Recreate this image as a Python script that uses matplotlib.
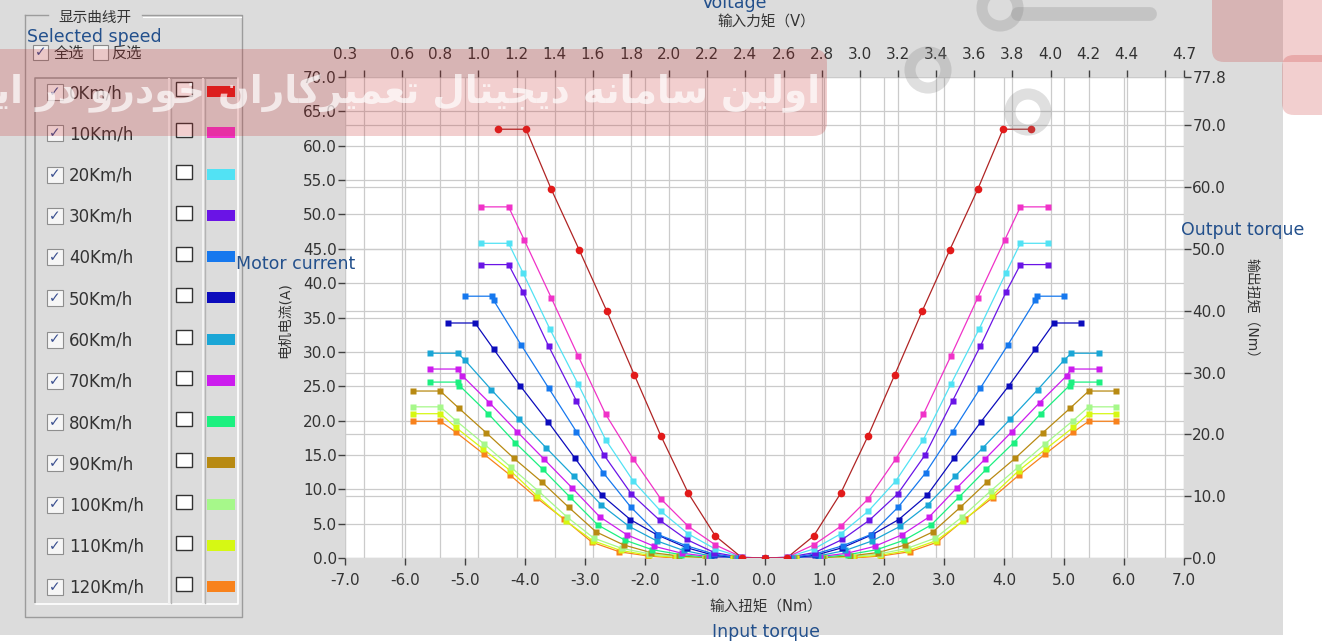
import numpy as np
import matplotlib.pyplot as plt
from matplotlib.patches import Rectangle, FancyBboxPatch, Circle

plt.rcParams['font.family'] = ['DejaVu Sans', 'Noto Sans CJK SC']

W, H = 1322, 643

speeds = ['0Km/h', '10Km/h', '20Km/h', '30Km/h', '40Km/h', '50Km/h', '60Km/h',
          '70Km/h', '80Km/h', '90Km/h', '100Km/h', '110Km/h', '120Km/h']
colors = ['#e21a1a', '#f032c8', '#52e2f4', '#6a14e6', '#1678ee', '#0c0cbc', '#1aa6d6',
          '#cc1cee', '#1cf080', '#b88a12', '#a6f88a', '#d6f814', '#f8821c']

# positive-torque half of each curve (Nm, A); the chart is mirror-symmetric about 0 Nm
t_000 = [0.37, 0.82, 1.27, 1.73, 2.17, 2.63, 3.09, 3.56, 3.98, 4.45]
i_000 = [0.0, 3.2, 9.4, 17.8, 26.6, 35.9, 44.8, 53.7, 62.4, 62.4]
t_010 = [0.37, 0.82, 1.27, 1.73, 2.19, 2.65, 3.11, 3.56, 4.01, 4.27, 4.73]
i_010 = [0.1, 1.9, 4.6, 8.6, 14.4, 20.9, 29.4, 37.9, 46.3, 51.1, 51.1]
t_020 = [0.37, 0.82, 1.27, 1.73, 2.19, 2.65, 3.11, 3.58, 4.03, 4.27, 4.73]
i_020 = [0.1, 1.3, 3.5, 6.8, 11.2, 17.2, 25.3, 33.3, 41.5, 45.8, 45.8]
t_030 = [0.39, 0.84, 1.30, 1.75, 2.22, 2.68, 3.14, 3.60, 4.03, 4.27, 4.73]
i_030 = [0.1, 0.8, 2.7, 5.5, 9.3, 15.0, 22.9, 30.8, 38.7, 42.7, 42.7]
t_040 = [0.40, 0.85, 1.31, 1.77, 2.23, 2.69, 3.14, 3.60, 4.06, 4.52, 4.55, 5.00]
i_040 = [0.0, 0.6, 1.8, 3.4, 7.4, 12.4, 18.4, 24.7, 31.0, 37.5, 38.1, 38.1]
t_050 = [0.40, 0.85, 1.30, 1.80, 2.24, 2.71, 3.16, 3.61, 4.08, 4.52, 4.83, 5.28]
i_050 = [0.0, 0.4, 1.5, 3.4, 5.6, 9.1, 14.5, 19.8, 25.1, 30.4, 34.2, 34.2]
t_060 = [0.45, 0.90, 1.35, 1.80, 2.26, 2.72, 3.18, 3.64, 4.10, 4.56, 5.00, 5.12, 5.58]
i_060 = [0.0, 0.3, 1.1, 2.5, 4.6, 7.7, 11.9, 16.0, 20.2, 24.5, 28.8, 29.8, 29.8]
t_070 = [0.46, 0.92, 1.38, 1.84, 2.30, 2.75, 3.21, 3.68, 4.13, 4.59, 5.04, 5.12, 5.58]
i_070 = [0.0, 0.2, 0.7, 1.7, 3.4, 6.0, 10.2, 14.4, 18.4, 22.6, 26.5, 27.5, 27.5]
t_080 = [0.48, 0.95, 1.40, 1.87, 2.33, 2.78, 3.25, 3.70, 4.16, 4.61, 5.09, 5.12, 5.58]
i_080 = [0.0, 0.1, 0.5, 1.2, 2.6, 4.8, 8.9, 12.9, 16.8, 21.0, 25.1, 25.6, 25.6]
t_090 = [0.50, 0.97, 1.43, 1.90, 2.35, 2.81, 3.27, 3.72, 4.18, 4.64, 5.10, 5.41, 5.87]
i_090 = [0.0, 0.05, 0.3, 0.8, 1.9, 3.8, 7.4, 11.1, 14.5, 18.2, 21.8, 24.3, 24.3]
t_100 = [0.50, 1.00, 1.45, 1.92, 2.38, 2.85, 3.30, 3.78, 4.23, 4.68, 5.15, 5.41, 5.87]
i_100 = [0.0, 0.0, 0.2, 0.6, 1.4, 2.9, 6.0, 9.8, 13.2, 16.6, 20.0, 22.0, 22.0]
t_110 = [0.52, 1.00, 1.47, 1.93, 2.40, 2.86, 3.32, 3.79, 4.24, 4.70, 5.15, 5.41, 5.87]
i_110 = [0.0, 0.0, 0.1, 0.4, 1.1, 2.5, 5.4, 9.0, 12.7, 15.9, 19.0, 21.0, 21.0]
t_120 = [0.52, 1.00, 1.50, 1.95, 2.42, 2.88, 3.35, 3.81, 4.25, 4.68, 5.15, 5.41, 5.87]
i_120 = [0.0, 0.0, 0.0, 0.3, 0.9, 2.3, 5.7, 8.8, 12.1, 15.1, 18.3, 19.9, 19.9]

torques = [t_000, t_010, t_020, t_030, t_040, t_050, t_060, t_070, t_080, t_090, t_100, t_110, t_120]
currents = [i_000, i_010, i_020, i_030, i_040, i_050, i_060, i_070, i_080, i_090, i_100, i_110, i_120]

x_ticks = [-7.0, -6.0, -5.0, -4.0, -3.0, -2.0, -1.0, 0.0, 1.0, 2.0, 3.0, 4.0, 5.0, 6.0, 7.0]
y_ticks = [0, 5, 10, 15, 20, 25, 30, 35, 40, 45, 50, 55, 60, 65, 70]
nm_ticks = [0, 10, 20, 30, 40, 50, 60, 70, 77.8]
volt_ticks = [0.3, 0.4, 0.6, 0.8, 1.0, 1.2, 1.4, 1.6, 1.8, 2.0, 2.2, 2.4, 2.6, 2.8,
              3.0, 3.2, 3.4, 3.6, 3.8, 4.0, 4.2, 4.4, 4.6, 4.7]
volt_labels = ['0.3', '', '0.6', '0.8', '1.0', '1.2', '1.4', '1.6', '1.8', '2.0', '2.2', '2.4',
               '2.6', '2.8', '3.0', '3.2', '3.4', '3.6', '3.8', '4.0', '4.2', '4.4', '', '4.7']

watermark = 'اولین سامانه دیجیتال تعمیرکاران خودرو در ایران'

GRID = '#cbcbcb'
PANEL = '#dcdcdc'
TXT = '#333333'
NOTE = '#23508c'


def t2v(t):
    return 2.5 + np.asarray(t) * 2.2 / 7.0


def v2t(v):
    return (np.asarray(v) - 2.5) * 7.0 / 2.2


def shape_persian(s):
    """Very small contextual shaper (presentation forms B) + visual reordering."""
    forms = {  # isolated, final, initial, medial
        'ا': ('\uFE8D', '\uFE8E', None, None),
        'د': ('\uFEA9', '\uFEAA', None, None),
        'ر': ('\uFEAD', '\uFEAE', None, None),
        'و': ('\uFEED', '\uFEEE', None, None),
        'ل': ('\uFEDD', '\uFEDE', '\uFEDF', '\uFEE0'),
        'ی': ('\uFEEF', '\uFEF0', '\uFEF3', '\uFEF4'),
        'ن': ('\uFEE5', '\uFEE6', '\uFEE7', '\uFEE8'),
        'س': ('\uFEB1', '\uFEB2', '\uFEB3', '\uFEB4'),
        'م': ('\uFEE1', '\uFEE2', '\uFEE3', '\uFEE4'),
        'ه': ('\uFEE9', '\uFEEA', '\uFEEB', '\uFEEC'),
        'ج': ('\uFE9D', '\uFE9E', '\uFE9F', '\uFEA0'),
        'ت': ('\uFE95', '\uFE96', '\uFE97', '\uFE98'),
        'ع': ('\uFEC9', '\uFECA', '\uFECB', '\uFECC'),
        'ک': ('\uFED9', '\uFEDA', '\uFEDB', '\uFEDC'),
        'خ': ('\uFEA5', '\uFEA6', '\uFEA7', '\uFEA8'),
    }
    out = []
    for k, ch in enumerate(s):
        if ch not in forms:
            out.append(ch)
            continue
        prev = s[k - 1] if k > 0 else ' '
        nxt = s[k + 1] if k + 1 < len(s) else ' '
        joins_prev = prev in forms and forms[prev][2] is not None
        joins_next = nxt in forms and forms[ch][2] is not None
        iso, fin, ini, med = forms[ch]
        if joins_prev and joins_next:
            out.append(med)
        elif joins_prev:
            out.append(fin)
        elif joins_next:
            out.append(ini)
        else:
            out.append(iso)
    return ''.join(reversed(out))


fig = plt.figure(figsize=(W / 100, H / 100), dpi=100, facecolor='white')

# ---- background / left selector panel (pixel coordinates) ----
bg = fig.add_axes([0, 0, 1, 1])
bg.set_xlim(0, W)
bg.set_ylim(H, 0)
bg.axis('off')
bg.add_patch(Rectangle((0, 0), 1283, 635, color=PANEL, lw=0))

# group box
bg.plot([25, 48], [15, 15], color='#9c9c9c', lw=1)
bg.plot([142, 242, 242, 25, 25], [15, 15, 617, 617, 15], color='#9c9c9c', lw=1)
bg.plot([143, 241], [16.5, 16.5], color='white', lw=0.8)
bg.text(95, 17, '显示曲线开', fontsize=10.5, color=TXT, ha='center', va='center')

# select all / invert
bg.add_patch(Rectangle((33, 45), 15, 15, facecolor='#f4f4f4', edgecolor='#8a8a8a', lw=0.8))
bg.text(40.5, 52, '✓', fontsize=10, color='#3a4f8f', ha='center', va='center')
bg.text(54, 53, '全选', fontsize=11, color=TXT, ha='left', va='center')
bg.add_patch(Rectangle((93, 45), 15, 15, facecolor='#f4f4f4', edgecolor='#8a8a8a', lw=0.8))
bg.text(111, 53, '反选', fontsize=11, color=TXT, ha='left', va='center')

# sunken list box
bg.plot([35, 35, 238], [604, 78, 78], color='#9a9a9a', lw=1.2)
bg.plot([35, 238, 238], [604, 604, 78], color='white', lw=1.2)
for xs in (169, 203):
    bg.plot([xs, xs], [79, 603], color='#f2f2f2', lw=1.5)
    bg.plot([xs + 2, xs + 2], [79, 603], color='#b4b4b4', lw=1)

row_y0, row_dy = 92, 41.25
for k, (name, col) in enumerate(zip(speeds, colors)):
    y = row_y0 + k * row_dy
    bg.add_patch(Rectangle((47, y - 8), 16, 16, facecolor='#f6f6f6', edgecolor='#8e8e8e', lw=0.8))
    bg.text(55, y, '✓', fontsize=10, color='#3a4f8f', ha='center', va='center')
    bg.text(69, y + 1, name, fontsize=12, color=TXT, ha='left', va='center')
    bg.add_patch(Rectangle((176, y - 10), 16, 14, facecolor='white', edgecolor='#333333', lw=1))
    bg.add_patch(Rectangle((207, y - 6), 28, 11, facecolor=col, edgecolor='none'))

bg.text(766, 22, '输入力矩（V）', fontsize=10.5, color=TXT, ha='center', va='center')
bg.text(766, 607, '输入扭矩（Nm）', fontsize=10.5, color=TXT, ha='center', va='center')
bg.text(285, 320, '电机电流(A)', fontsize=10, color=TXT, ha='center', va='center', rotation=90)
bg.text(1252, 312, '输出扭矩（Nm）', fontsize=10, color=TXT, ha='center', va='center', rotation=-90)

# ---- chart ----
ax = fig.add_axes([345 / W, 1 - 558 / H, (1184 - 345) / W, (558 - 77) / H])
ax.set_facecolor('white')
ax.set_xlim(-7, 7)
ax.set_ylim(0, 70)

for v in x_ticks:
    ax.axvline(v, color=GRID, lw=0.9, zorder=0)
for v in volt_ticks:
    ax.axvline(float(v2t(v)), color=GRID, lw=0.9, zorder=0)
for v in y_ticks:
    ax.axhline(v, color=GRID, lw=0.9, zorder=0)
for v in nm_ticks:
    ax.axhline(v * 70 / 77.8, color=GRID, lw=0.9, zorder=0)

for k in range(len(speeds) - 1, -1, -1):
    t = np.array(torques[k])
    c = np.array(currents[k])
    xs = np.concatenate([-t[::-1], [0.0], t])
    ys = np.concatenate([c[::-1], [0.0], c])
    line_col = '#b02424' if k == 0 else colors[k]
    ax.plot(xs, ys, color=line_col, lw=0.9, zorder=2 + (13 - k) * 0.01)
    ax.plot(xs, ys, ls='none', marker='o' if k == 0 else 's',
            ms=5.5 if k == 0 else 5, mfc=colors[k], mec='none', zorder=3 + (13 - k) * 0.01)

ax.set_xticks(x_ticks)
ax.set_xticklabels([f'{v:.1f}' for v in x_ticks])
ax.set_yticks(y_ticks)
ax.set_yticklabels([f'{v:.1f}' for v in y_ticks])
ax.tick_params(length=5, width=1, color='#404040', labelsize=11, labelcolor=TXT)
ax.tick_params(axis='x', pad=6)
ax.tick_params(axis='y', pad=1)
for s in ax.spines.values():
    s.set_visible(False)

top = ax.secondary_xaxis('top', functions=(t2v, v2t))
top.set_xticks(volt_ticks)
top.set_xticklabels(volt_labels)
top.tick_params(length=5, width=1, color='#404040', labelsize=11, labelcolor=TXT, pad=6)
for s in top.spines.values():
    s.set_visible(False)

ax2 = ax.twinx()
ax2.set_ylim(0, 77.8)
ax2.set_yticks(nm_ticks)
ax2.set_yticklabels([f'{v:.1f}' for v in nm_ticks])
ax2.tick_params(length=5, width=1, color='#404040', labelsize=11, labelcolor=TXT, pad=1)
for s in ax2.spines.values():
    s.set_visible(False)

# ---- overlay: English notes and watermark ----
wm = fig.add_axes([0, 0, 1, 1])
wm.set_zorder(10)
wm.patch.set_alpha(0)
wm.set_xlim(0, W)
wm.set_ylim(H, 0)
wm.axis('off')
wm.add_patch(FancyBboxPatch((-30, 49), 857, 87, boxstyle='round,pad=0,rounding_size=14',
                            facecolor='#c82828', alpha=0.22, edgecolor='none'))
wm.add_patch(FancyBboxPatch((1212, -30), 140, 92, boxstyle='round,pad=0,rounding_size=12',
                            facecolor='#c82828', alpha=0.22, edgecolor='none'))
wm.add_patch(FancyBboxPatch((1282, 55), 70, 60, boxstyle='round,pad=0,rounding_size=12',
                            facecolor='#c82828', alpha=0.22, edgecolor='none'))
wm.text(820, 93, shape_persian(watermark), fontsize=27, fontweight='bold', color='white',
        alpha=0.7, ha='right', va='center', family='DejaVu Sans')
for cx, cy in [(1000, 8), (928, 70), (1028, 112)]:
    wm.add_patch(Circle((cx, cy), 18, facecolor='none', edgecolor='#808080', lw=8, alpha=0.25))
wm.plot([1018, 1150], [14, 14], color='#808080', lw=10, alpha=0.25, solid_capstyle='round')

wm.text(27, 37, 'Selected speed', fontsize=12.5, color=NOTE, ha='left', va='center')
wm.text(735, 3, 'Voltage', fontsize=12.5, color=NOTE, ha='center', va='center')
wm.text(766, 632, 'Input torque', fontsize=12.5, color=NOTE, ha='center', va='center')
wm.text(236, 264, 'Motor current', fontsize=12.5, color=NOTE, ha='left', va='center')
wm.text(1181, 230, 'Output torque', fontsize=12.5, color=NOTE, ha='left', va='center')

fig.savefig('out.png', dpi=100, facecolor='white')
